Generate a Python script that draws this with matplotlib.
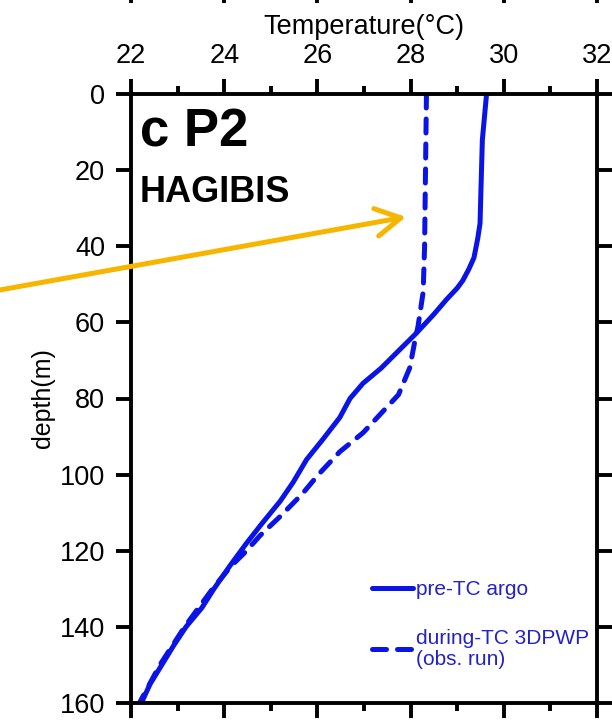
import numpy as np
import matplotlib
matplotlib.use("Agg")
import matplotlib.pyplot as plt
from matplotlib.ticker import MultipleLocator

plt.rcParams['font.family'] = ['Liberation Sans', 'DejaVu Sans']

# pre-TC argo profile (solid)
pre_depth = [0, 8, 12, 25, 34, 38, 43, 46, 49, 51, 54, 58, 63, 67, 72, 76, 80, 85,
             91, 96, 102, 107, 113, 118, 124, 130, 135, 140, 145, 150, 155, 159, 160]
pre_temp = [29.63, 29.57, 29.54, 29.51, 29.49, 29.44, 29.36, 29.25, 29.12, 29.00,
            28.77, 28.49, 28.11, 27.78, 27.37, 26.98, 26.70, 26.48, 26.10, 25.77,
            25.48, 25.20, 24.80, 24.48, 24.12, 23.78, 23.52, 23.18, 22.91, 22.66,
            22.41, 22.26, 22.23]

# during-TC 3DPWP obs. run (dashed)
dur_depth = [0, 20, 40, 52, 61, 65, 72, 79, 84, 89, 94, 100, 105, 111, 116, 120,
             124, 130, 140, 150, 160]
dur_temp = [28.34, 28.32, 28.30, 28.27, 28.16, 28.09, 27.98, 27.74, 27.36, 26.98,
            26.48, 26.02, 25.68, 25.20, 24.77, 24.48, 24.15, 23.75, 23.15, 22.62,
            22.18]

xticks = [22, 24, 26, 28, 30, 32]
yticks = [0, 20, 40, 60, 80, 100, 120, 140, 160]
line_col = '#0a14e6'
text_col = '#2222c8'

fig = plt.figure(figsize=(6.12, 7.2), dpi=100)
ax = fig.add_axes([131 / 612, 17 / 720, 466 / 612, 609 / 720])

ax.plot(pre_temp, pre_depth, color=line_col, lw=3.6, solid_capstyle='round',
        label='pre-TC argo')
ax.plot(dur_temp, dur_depth, color=line_col, lw=3.6, linestyle=(0, (2.8, 2.2)),
        dash_capstyle='round', label='during-TC 3DPWP\n(obs. run)')

ax.set_xlim(22, 32)
ax.set_ylim(160, 0)
ax.set_xticks(xticks)
ax.set_yticks(yticks)
ax.xaxis.set_minor_locator(MultipleLocator(1))
ax.xaxis.set_label_position('top')
ax.tick_params(axis='x', which='both', top=True, bottom=True, labeltop=True,
               labelbottom=False)
ax.tick_params(axis='y', which='both', left=True, right=True)
ax.tick_params(which='major', direction='out', length=10.8, width=2.8,
               labelsize=19.5, pad=7)
ax.tick_params(which='minor', direction='out', length=6, width=2.8)
ax.tick_params(axis='y', pad=8)
for sp in ax.spines.values():
    sp.set_linewidth(2.8)

ax.set_xlabel('Temperature(°C)', fontsize=19.5, labelpad=7)
ax.set_ylabel('depth(m)', fontsize=18, labelpad=3)

ax.text(0.019, 0.913, 'c P2', transform=ax.transAxes, fontsize=38,
        fontweight='bold', va='baseline')
ax.text(0.019, 0.823, 'HAGIBIS', transform=ax.transAxes, fontsize=26,
        fontweight='bold', va='baseline')

leg = ax.legend(loc='upper left', bbox_to_anchor=(0.517, 0.2015), frameon=False,
                fontsize=15, handlelength=1.95, handletextpad=0.15,
                labelspacing=1.42, borderpad=0, borderaxespad=0)
for t in leg.get_texts():
    t.set_color(text_col)
    t.set_linespacing(1.12)

# orange arrow pointing at the during-TC profile
ax.annotate('', xy=(27.9, 32.3), xytext=(19.0, 51.9), xycoords='data',
            annotation_clip=False,
            arrowprops=dict(arrowstyle='->, head_length=0.9, head_width=0.5',
                            color='#f7b500', lw=3.6, mutation_scale=20,
                            shrinkA=0, shrinkB=0))

# bottom ticks of the panel above (cropped at the top edge)
above = fig.add_axes([131 / 612, 1 + 12 / 720, 466 / 612, 0.05])
above.set_xlim(22, 32)
above.set_xticks(xticks)
above.set_yticks([])
above.tick_params(axis='x', direction='out', length=11, width=2.8,
                  labelbottom=False)
for sp in above.spines.values():
    sp.set_visible(False)
above.patch.set_visible(False)

fig.savefig('out.png', dpi=100)
